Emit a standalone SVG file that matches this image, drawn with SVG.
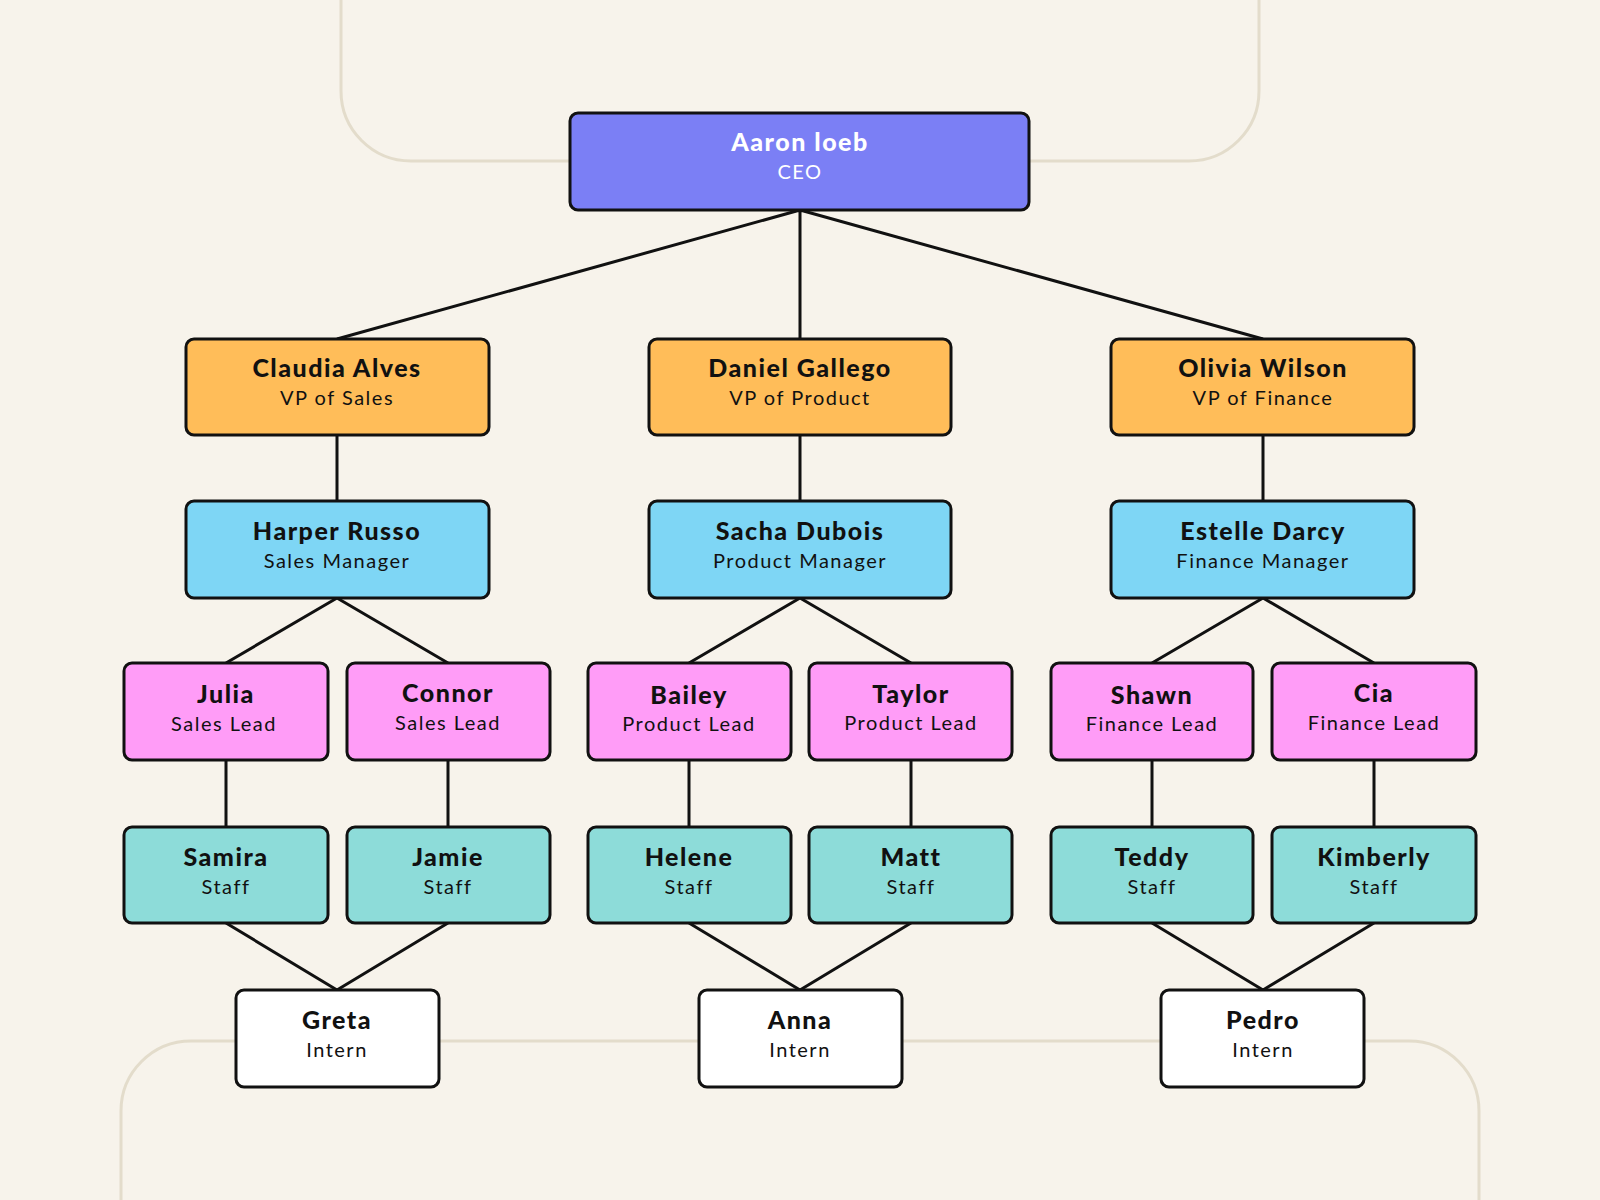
<svg xmlns="http://www.w3.org/2000/svg" width="1600" height="1200" viewBox="0 0 1600 1200">
<style>
.b{stroke:#111;stroke-width:3}
.n{font-family:Lato,"Open Sans",sans-serif;font-weight:900;font-size:25px;letter-spacing:1.5px;text-anchor:middle;fill:#111}
.r{font-family:Lato,"Open Sans",sans-serif;font-size:20px;letter-spacing:1.5px;text-anchor:middle;fill:#111}
.ceo{fill:#7b7ff5}.vp{fill:#ffbd59}.mg{fill:#7ed6f5}.ld{fill:#ff9cf7}.st{fill:#8ddcd9}.in{fill:#fff}
</style>
<rect width="1600" height="1200" fill="#f7f3eb"/>
<rect x="341" y="-100" width="918" height="261" rx="70" fill="none" stroke="#e3dccb" stroke-width="3"/>
<rect x="121" y="1041" width="1358" height="300" rx="70" fill="none" stroke="#e3dccb" stroke-width="3"/>
<g id="connectors" stroke="#111" stroke-width="3" fill="none">
<path d="M800 210L337 339M800 210V339M800 210L1263 339"/>
<path d="M337 435V501M800 435V501M1263 435V501"/>
<path d="M337 598L226 663M337 598L448 663M800 598L689 663M800 598L911 663M1263 598L1152 663M1263 598L1374 663"/>
<path d="M226 760V827M448 760V827M689 760V827M911 760V827M1152 760V827M1374 760V827"/>
<path d="M226 923L337 990M448 923L337 990M689 923L800 990M911 923L800 990M1152 923L1263 990M1374 923L1263 990"/>
</g>
<g id="ceo"><rect class="b ceo" x="570" y="113" width="459" height="97" rx="8"/><text class="n" x="800" y="151" fill="#fff" style="fill:#fff">Aaron loeb</text><text class="r" x="800" y="179" style="fill:#fff">CEO</text></g>
<g id="claudia"><rect class="b vp" x="186" y="339" width="303" height="96" rx="8"/><text class="n" x="337" y="377">Claudia Alves</text><text class="r" x="337" y="405">VP of Sales</text></g>
<g id="daniel"><rect class="b vp" x="649" y="339" width="302" height="96" rx="8"/><text class="n" x="800" y="377">Daniel Gallego</text><text class="r" x="800" y="405">VP of Product</text></g>
<g id="olivia"><rect class="b vp" x="1111" y="339" width="303" height="96" rx="8"/><text class="n" x="1263" y="377">Olivia Wilson</text><text class="r" x="1263" y="405">VP of Finance</text></g>
<g id="harper"><rect class="b mg" x="186" y="501" width="303" height="97" rx="8"/><text class="n" x="337" y="540">Harper Russo</text><text class="r" x="337" y="568">Sales Manager</text></g>
<g id="sacha"><rect class="b mg" x="649" y="501" width="302" height="97" rx="8"/><text class="n" x="800" y="540">Sacha Dubois</text><text class="r" x="800" y="568">Product Manager</text></g>
<g id="estelle"><rect class="b mg" x="1111" y="501" width="303" height="97" rx="8"/><text class="n" x="1263" y="540">Estelle Darcy</text><text class="r" x="1263" y="568">Finance Manager</text></g>
<g id="julia"><rect class="b ld" x="124" y="663" width="204" height="97" rx="8"/><text class="n" x="226" y="703">Julia</text><text class="r" x="224" y="731">Sales Lead</text></g>
<g id="connor"><rect class="b ld" x="347" y="663" width="203" height="97" rx="8"/><text class="n" x="448" y="702">Connor</text><text class="r" x="448" y="730">Sales Lead</text></g>
<g id="bailey"><rect class="b ld" x="588" y="663" width="203" height="97" rx="8"/><text class="n" x="689" y="704">Bailey</text><text class="r" x="689" y="731">Product Lead</text></g>
<g id="taylor"><rect class="b ld" x="809" y="663" width="203" height="97" rx="8"/><text class="n" x="911" y="703">Taylor</text><text class="r" x="911" y="730">Product Lead</text></g>
<g id="shawn"><rect class="b ld" x="1051" y="663" width="202" height="97" rx="8"/><text class="n" x="1152" y="704">Shawn</text><text class="r" x="1152" y="731">Finance Lead</text></g>
<g id="cia"><rect class="b ld" x="1272" y="663" width="204" height="97" rx="8"/><text class="n" x="1374" y="702">Cia</text><text class="r" x="1374" y="730">Finance Lead</text></g>
<g id="samira"><rect class="b st" x="124" y="827" width="204" height="96" rx="8"/><text class="n" x="226" y="866">Samira</text><text class="r" x="226" y="894">Staff</text></g>
<g id="jamie"><rect class="b st" x="347" y="827" width="203" height="96" rx="8"/><text class="n" x="448" y="866">Jamie</text><text class="r" x="448" y="894">Staff</text></g>
<g id="helene"><rect class="b st" x="588" y="827" width="203" height="96" rx="8"/><text class="n" x="689" y="866">Helene</text><text class="r" x="689" y="894">Staff</text></g>
<g id="matt"><rect class="b st" x="809" y="827" width="203" height="96" rx="8"/><text class="n" x="911" y="866">Matt</text><text class="r" x="911" y="894">Staff</text></g>
<g id="teddy"><rect class="b st" x="1051" y="827" width="202" height="96" rx="8"/><text class="n" x="1152" y="866">Teddy</text><text class="r" x="1152" y="894">Staff</text></g>
<g id="kimberly"><rect class="b st" x="1272" y="827" width="204" height="96" rx="8"/><text class="n" x="1374" y="866">Kimberly</text><text class="r" x="1374" y="894">Staff</text></g>
<g id="greta"><rect class="b in" x="236" y="990" width="203" height="97" rx="8"/><text class="n" x="337" y="1029">Greta</text><text class="r" x="337" y="1057">Intern</text></g>
<g id="anna"><rect class="b in" x="699" y="990" width="203" height="97" rx="8"/><text class="n" x="800" y="1029">Anna</text><text class="r" x="800" y="1057">Intern</text></g>
<g id="pedro"><rect class="b in" x="1161" y="990" width="203" height="97" rx="8"/><text class="n" x="1263" y="1029">Pedro</text><text class="r" x="1263" y="1057">Intern</text></g>
</svg>
